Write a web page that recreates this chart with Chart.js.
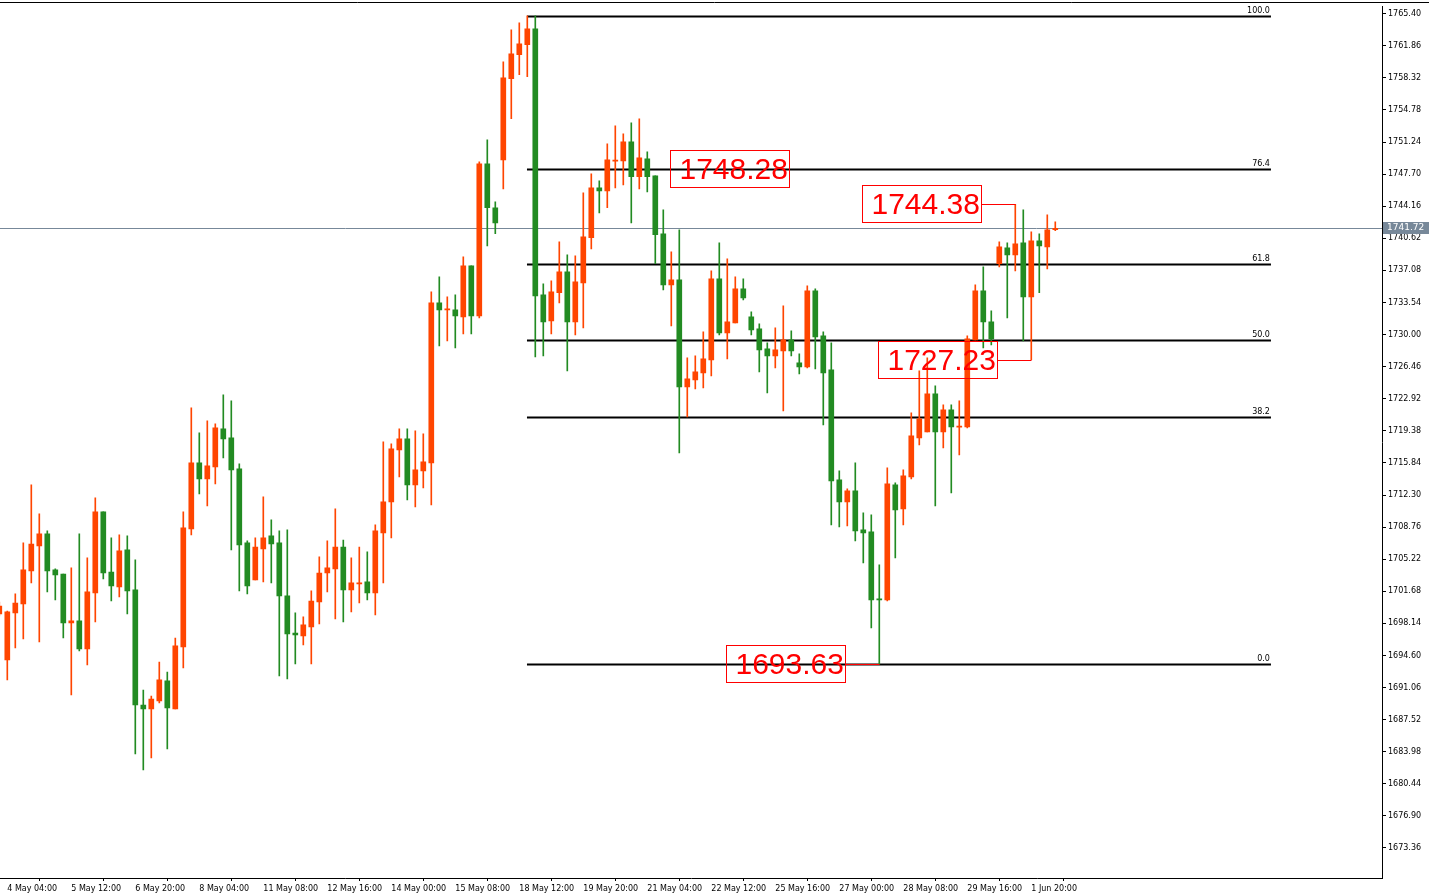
<!DOCTYPE html>
<html>
<head>
<meta charset="utf-8">
<script src="https://cdn.jsdelivr.net/npm/chart.js@4.4.0/dist/chart.umd.min.js"></script>
<style>
body{margin:0;background:#fff;overflow:hidden}
</style>
</head>
<body>
<canvas id="myChart" width="1429" height="893"></canvas>
<script>
// H4 candles, oldest first
var opens=[1699.18,1694.10,1699.29,1700.28,1703.93,1706.68,1708.01,1704.04,1703.59,1698.19,1698.41,1695.32,1701.50,1710.44,1703.81,1702.16,1706.24,1701.83,1689.14,1688.70,
1689.58,1691.79,1688.70,1695.54,1708.56,1715.84,1714.08,1715.40,1719.60,1718.60,1715.18,1707.02,1702.93,1706.35,1707.79,1707.02,1701.17,1697.08,1696.75,1697.74,
1700.50,1703.70,1704.15,1706.57,1701.83,1702.49,1702.71,1701.50,1708.12,1711.54,1717.28,1718.49,1713.42,1714.96,1715.84,1733.50,1732.73,1732.73,1731.96,1737.58,
1732.07,1748.84,1743.99,1749.28,1758.22,1760.87,1761.97,1763.74,1734.39,1731.52,1734.61,1736.92,1731.40,1735.71,1740.68,1746.19,1745.86,1749.14,1749.17,1751.27,
1747.41,1749.39,1747.52,1741.12,1735.49,1736.04,1724.23,1725.00,1725.78,1727.21,1736.15,1730.19,1731.29,1735.05,1731.96,1730.63,1728.43,1727.65,1728.20,1729.42,
1726.88,1726.44,1734.83,1729.86,1726.11,1713.97,1711.54,1712.75,1708.45,1708.23,1700.84,1700.72,1713.42,1710.77,1714.30,1718.60,1719.27,1723.46,1719.27,1721.69,
1719.78,1719.82,1729.42,1734.83,1731.40,1737.81,1739.57,1738.80,1740.12,1734.16,1740.34,1739.68,1741.56];
var highs=[1700.50,1699.51,1701.39,1707.02,1713.42,1710.22,1708.34,1704.15,1703.59,1704.26,1708.01,1705.36,1711.98,1710.44,1707.57,1707.90,1707.79,1705.14,1690.79,1690.13,
1693.88,1692.78,1696.53,1710.44,1721.91,1719.15,1720.48,1720.15,1723.35,1722.69,1715.73,1707.24,1707.57,1712.09,1709.55,1708.34,1708.45,1699.29,1698.85,1701.72,
1705.47,1707.24,1710.77,1707.34,1705.36,1706.57,1706.02,1709.00,1718.16,1717.94,1719.60,1719.60,1719.38,1719.04,1734.72,1736.37,1734.16,1734.38,1738.58,1737.58,
1749.06,1751.49,1744.65,1760.10,1763.63,1764.40,1765.17,1765.16,1735.60,1735.93,1740.23,1738.80,1738.69,1745.64,1747.74,1746.97,1751.05,1753.04,1752.15,1753.37,
1753.81,1750.17,1747.52,1743.77,1739.13,1741.56,1727.43,1727.65,1730.30,1737.03,1740.12,1738.36,1736.37,1736.15,1732.51,1731.18,1729.09,1730.74,1733.17,1730.41,
1727.87,1735.38,1735.05,1730.30,1729.09,1714.96,1712.97,1715.84,1710.33,1710.11,1704.59,1715.29,1713.64,1715.07,1721.36,1726.00,1727.43,1724.34,1722.24,1722.24,
1722.69,1729.86,1735.49,1737.47,1732.62,1740.23,1740.12,1744.38,1743.77,1741.34,1741.12,1743.21,1742.44];
var lows=[1698.96,1691.90,1695.43,1696.42,1702.60,1696.09,1701.61,1700.72,1696.53,1690.24,1695.10,1693.55,1698.30,1703.04,1700.61,1701.06,1699.18,1683.73,1681.96,1683.29,
1689.36,1684.28,1688.70,1693.22,1707.90,1712.42,1711.10,1713.53,1716.40,1706.24,1701.72,1701.39,1702.93,1702.71,1702.60,1692.34,1692.01,1693.66,1695.76,1693.66,
1698.08,1701.61,1698.63,1698.30,1699.40,1700.39,1700.72,1699.07,1702.60,1707.57,1714.30,1711.76,1710.99,1713.09,1711.21,1728.76,1729.31,1728.54,1730.08,1730.08,
1731.85,1739.79,1741.12,1746.08,1753.81,1758.66,1758.44,1727.54,1727.65,1730.08,1733.50,1726.00,1729.97,1730.74,1739.46,1743.43,1743.99,1746.19,1746.52,1742.33,
1746.08,1745.75,1737.81,1734.94,1730.96,1716.95,1720.92,1724.01,1724.12,1725.45,1729.97,1727.32,1731.29,1733.83,1729.97,1725.89,1723.57,1726.33,1721.58,1727.65,
1725.67,1726.33,1726.22,1720.04,1709.00,1708.78,1708.89,1707.24,1704.81,1697.63,1693.63,1700.61,1705.36,1709.00,1714.08,1717.83,1719.27,1711.10,1717.50,1712.53,
1716.73,1719.71,1729.42,1728.54,1728.87,1737.47,1731.85,1737.03,1729.31,1727.23,1734.61,1737.25,1741.45];
var closes=[1700.06,1699.40,1700.39,1704.04,1706.90,1708.01,1703.93,1703.48,1698.19,1698.41,1695.32,1701.61,1710.44,1703.70,1702.27,1706.13,1701.72,1689.14,1688.70,1689.80,
1691.90,1688.81,1695.65,1708.67,1715.84,1714.08,1715.51,1719.71,1718.49,1715.07,1706.79,1702.27,1706.57,1707.57,1706.90,1701.17,1696.97,1696.86,1697.97,1700.61,
1703.70,1704.26,1706.57,1701.83,1702.60,1702.60,1701.50,1708.34,1711.54,1717.39,1718.49,1713.42,1715.07,1715.95,1733.50,1732.73,1732.84,1732.07,1737.58,1732.07,
1748.84,1743.99,1742.33,1758.33,1760.98,1762.08,1763.74,1734.27,1731.40,1734.72,1736.92,1731.40,1735.82,1740.79,1746.19,1745.86,1749.28,1749.25,1751.27,1747.41,
1749.50,1747.41,1741.01,1735.49,1736.04,1724.23,1725.11,1725.89,1727.32,1736.15,1730.19,1731.40,1735.05,1734.05,1730.52,1728.31,1727.65,1728.31,1729.42,1728.20,
1726.44,1734.83,1729.75,1725.78,1713.86,1711.54,1712.75,1708.34,1708.12,1700.72,1700.72,1713.53,1710.66,1714.41,1718.82,1720.70,1723.46,1719.27,1721.69,1719.82,
1719.85,1729.53,1734.83,1731.40,1729.53,1739.68,1738.80,1740.01,1734.16,1740.34,1739.79,1741.56,1741.72];

var timeLabels=['4 May 04:00','5 May 12:00','6 May 20:00','8 May 04:00','11 May 08:00','12 May 16:00','14 May 00:00','15 May 08:00','18 May 12:00',
'19 May 20:00','21 May 04:00','22 May 12:00','25 May 16:00','27 May 00:00','28 May 08:00','29 May 16:00','1 Jun 20:00'];
var priceTicks=[1673.36,1676.90,1680.44,1683.98,1687.52,1691.06,1694.60,1698.14,1701.68,1705.22,1708.76,1712.30,1715.84,1719.38,1722.92,1726.46,
1730.00,1733.54,1737.08,1740.62,1744.16,1747.70,1751.24,1754.78,1758.32,1761.86,1765.40];
var fibNames=['100.0','76.4','61.8','50.0','38.2','0.0'];
var fibPrices=[1765.16,1748.28,1737.84,1729.40,1720.95,1693.63];
var bidPrice=1741.72;
// price boxes: value, bar index of box left, bar index it points to
var boxValues=[1748.28,1744.38,1727.23,1693.63];
var boxLeft=[83.84,107.84,109.84,90.84];
var boxTarget=[null,127,129,110];

var UP='#FF4500', DOWN='#228B22';
var wickData=[], bodyData=[], cols=[];
for(var i=0;i<opens.length;i++){
  var lo=Math.min(opens[i],closes[i]), hi=Math.max(opens[i],closes[i]);
  if(hi-lo<0.12) hi=lo+0.12;
  wickData.push({x:i,y:[lows[i],highs[i]]});
  bodyData.push({x:i,y:[lo,hi]});
  cols.push(closes[i]>=opens[i]?UP:DOWN);
}

var overlay={
  id:'overlay',
  beforeDatasetsDraw:function(chart){
    var c=chart.ctx, xs=chart.scales.x, ys=chart.scales.y, a=chart.chartArea;
    c.save();
    // bid line
    var by=Math.round(ys.getPixelForValue(bidPrice))+0.5;
    c.strokeStyle='#778899';c.lineWidth=1;
    c.beginPath();c.moveTo(a.left,by);c.lineTo(a.right,by);c.stroke();
    // fibo
    var x1=xs.getPixelForValue(65.96), x2=xs.getPixelForValue(158.96);
    c.font='8px "DejaVu Sans"';c.fillStyle='#000';c.textAlign='right';c.textBaseline='bottom';
    for(var k=0;k<fibPrices.length;k++){
      var y=Math.round(ys.getPixelForValue(fibPrices[k]))+0.5;
      c.strokeStyle='#000';c.lineWidth=2;
      c.beginPath();c.moveTo(x1,y);c.lineTo(x2,y);c.stroke();
      c.fillText(fibNames[k],x2-1,y-2);
    }
    c.restore();
  },
  afterDatasetsDraw:function(chart){
    var c=chart.ctx, xs=chart.scales.x, ys=chart.scales.y, a=chart.chartArea;
    c.save();
    for(var k=0;k<boxValues.length;k++){
      var yc=Math.round(ys.getPixelForValue(boxValues[k]));
      var bx=Math.round(xs.getPixelForValue(boxLeft[k]))+0.5;
      var bw=119, bh=37;
      c.strokeStyle='#FF0000';c.lineWidth=1;
      c.strokeRect(bx,yc-18.5,bw,bh);
      if(boxTarget[k]!==null){
        var tx=Math.round(xs.getPixelForValue(boxTarget[k]))+0.5;
        c.beginPath();c.moveTo(bx+bw,yc+0.5);c.lineTo(tx,yc+0.5);c.stroke();
      }
      c.fillStyle='#FF0000';c.font='30px "Liberation Sans"';c.textAlign='left';c.textBaseline='middle';
      c.fillText(boxValues[k].toFixed(2),bx+9,yc+2);
    }
    // bid label on axis
    var by=Math.round(ys.getPixelForValue(bidPrice));
    c.fillStyle='#778899';c.fillRect(a.right+1,by-6,46,12);
    c.fillStyle='#fff';c.font='9px "DejaVu Sans"';c.textAlign='left';c.textBaseline='middle';
    c.fillText(bidPrice.toFixed(2),a.right+5,by);
    // frame
    c.strokeStyle='#000';c.lineWidth=1;
    c.beginPath();c.moveTo(0,2.5);c.lineTo(1429,2.5);c.stroke();
    c.restore();
  }
};

var chartContainer=document.getElementById('myChart');
var myChart=new Chart(chartContainer,{
  type:'bar',
  data:{
    datasets:[
      {label:'wick',data:wickData,backgroundColor:cols,barThickness:1,grouped:false,order:2},
      {label:'body',data:bodyData,backgroundColor:cols,barThickness:5,grouped:false,order:1}
    ]
  },
  options:{
    responsive:false,animation:false,
    layout:{padding:{top:3,left:0,right:0,bottom:0}},
    plugins:{legend:{display:false},tooltip:{enabled:false}},
    scales:{
      x:{type:'linear',min:0.0875,max:172.84,offset:false,
        grid:{display:true,drawOnChartArea:false,tickLength:3,color:'#000'},
        border:{color:'#000'},
        afterBuildTicks:function(s){s.ticks=timeLabels.map(function(t,j){return {value:1+8*j};});},
        afterFit:function(s){s.height=15;},
        ticks:{autoSkip:false,maxRotation:0,align:'start',padding:3,color:'#000',font:{family:'DejaVu Sans',size:8},
          callback:function(v){var j=Math.round((v-1)/8);return timeLabels[j];}}
      },
      y:{position:'right',min:1670.05,max:1766.16,
        grid:{display:true,drawOnChartArea:false,tickLength:4,color:'#000'},
        border:{color:'#000'},
        afterBuildTicks:function(s){s.ticks=priceTicks.map(function(v){return {value:v};});},
        afterFit:function(s){s.width=47;},
        ticks:{padding:2,color:'#000',font:{family:'DejaVu Sans',size:8},callback:function(v){return v.toFixed(2);}}
      }
    }
  },
  plugins:[overlay]
});
</script>
</body>
</html>
